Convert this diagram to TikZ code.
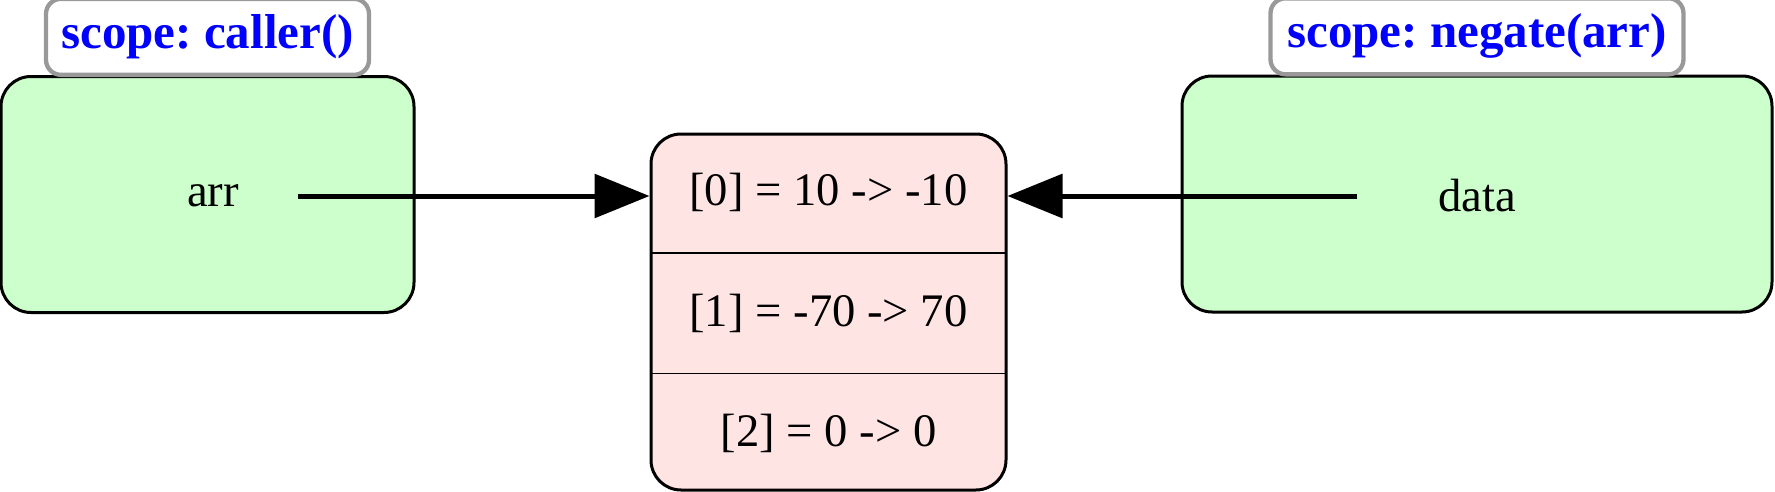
\documentclass[tikz,border=0pt]{standalone}
\usepackage{fontspec}
\setmainfont{Liberation Serif}
\usepackage{tikz}
\usetikzlibrary{shapes,positioning,arrows.meta}
\definecolor{scopegreen}{HTML}{CCFFCC}
\definecolor{cellpink}{HTML}{FFE4E4}
\definecolor{tagline}{HTML}{999999}
\frenchspacing

\begin{document}
\begin{tikzpicture}[x=0.3pt,y=-0.3pt,>={Triangle[length=16.5pt,width=13pt]},
   every node/.style={font=\fontsize{14}{16.8}\selectfont},
   frame/.style={draw,line width=0.9pt,rounded corners=9pt},
   scopebox/.style={frame,fill=scopegreen,minimum height=70.8pt},
   tag/.style={draw=tagline,line width=1.3pt,rounded corners=4.5pt,fill=white,text=blue,
      font=\fontsize{14.7}{17.6}\selectfont\bfseries,minimum height=22.8pt,inner sep=0pt},
   cell/.style={minimum width=106.5pt,minimum height=35.7pt,inner sep=0pt}]
   \useasboundingbox (0,0) rectangle (1775,492);

   \node[scopebox,minimum width=123.9pt] (caller) at (207.5,194.5) {};
   \node[scopebox,minimum width=177pt] (negate) at (1477,194) {};
   \node[tag,minimum width=96.9pt] (tag_1) [above=-0.6pt of caller] {scope: caller()};
   \node[tag,minimum width=123.9pt] (tag_2) [above=-0.6pt of negate] {scope: negate(arr)};

   \node[minimum width=50.4pt,inner sep=0pt] (arr) at (213,196) {arr};
   \node[minimum width=71.4pt,inner sep=0pt] (data) at (1477,196) {data};

   \node[frame,fill=cellpink,minimum width=106.5pt,minimum height=106.8pt] (cells) at (828.5,312) {};
   \node[cell] (c_0) [below=0pt of cells.north] {[0] = 10 -> -10};
   \node[cell] (c_1) [below=0pt of c_0] {[1] = -70 -> 70};
   \node[cell] (c_2) [below=0pt of c_1] {[2] = 0 -> 0};
   \draw[line width=0.4pt] (c_0.south west) -- (c_0.south east)
                           (c_1.south west) -- (c_1.south east);

   \path[->,line width=1.5pt]
    (arr) edge (arr -| cells.west)
    (data) edge (data -| cells.east);
\end{tikzpicture}
\end{document}
